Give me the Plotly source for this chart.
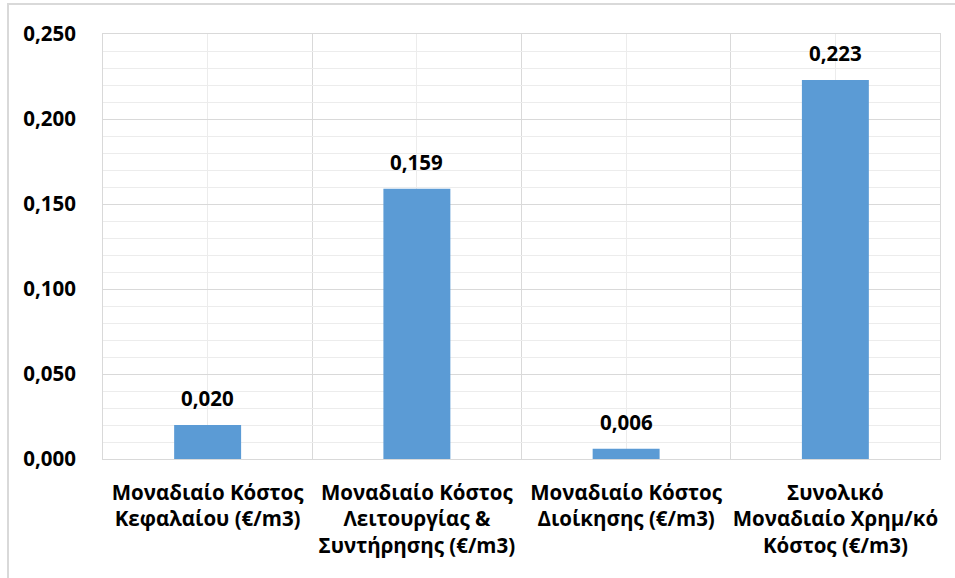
import plotly.graph_objects as go

categories = [
    "Μοναδιαίο Κόστος<br>Κεφαλαίου (€/m3)",
    "Μοναδιαίο Κόστος<br>Λειτουργίας &<br>Συντήρησης (€/m3)",
    "Μοναδιαίο Κόστος<br>Διοίκησης (€/m3)",
    "Συνολικό<br>Μοναδιαίο Χρημ/κό<br>Κόστος (€/m3)",
]
values = [0.020, 0.159, 0.006, 0.223]
y_ticks = [0.0, 0.05, 0.10, 0.15, 0.20, 0.25]

positions = list(range(len(categories)))
boundaries = [p - 0.5 for p in positions] + [positions[-1] + 0.5]

FONT = "Open Sans"
FS = 20.5
BAR = "#5B9BD5"
MAJOR = "#d9d9d9"
MINOR = "#ececec"

fig = go.Figure(go.Bar(
    x=positions, y=values, width=0.32,
    marker=dict(color=BAR, line=dict(width=0)),
    hoverinfo="skip",
))

for xp, v in zip(positions, values):
    fig.add_annotation(
        x=xp, y=v, xref="x", yref="y",
        text=f"{v:.3f}".replace(".", ","),
        showarrow=False, yanchor="bottom", yshift=11,
        font=dict(family=FONT, size=FS, color="#000000", weight="bold"),
    )

fig.update_layout(
    width=955, height=578,
    margin=dict(l=103, r=15, t=34, b=119, autoexpand=False),
    paper_bgcolor="white", plot_bgcolor="white",
    separators=",.",
    showlegend=False,
    font=dict(family=FONT, size=FS, color="#000000", weight="bold"),
    xaxis=dict(
        range=[-0.5, len(categories) - 0.5],
        tickmode="array", tickvals=positions, ticktext=categories,
        showgrid=True, gridcolor=MINOR, gridwidth=1,
        ticks="", zeroline=False, automargin=False,
        showline=True, linecolor=MAJOR, mirror=True,
        minor=dict(tickmode="array", tickvals=boundaries, showgrid=True, gridcolor=MAJOR, gridwidth=1, ticks=""),
        tickfont=dict(family=FONT, size=FS, color="#000000", weight="bold"),
        ticklabelstandoff=15,
    ),
    yaxis=dict(
        range=[0, 0.25],
        tickmode="array", tickvals=y_ticks, tickformat=".3f",
        showgrid=True, gridcolor=MAJOR, gridwidth=1,
        minor=dict(dtick=0.01, showgrid=True, gridcolor=MINOR, gridwidth=1, ticks=""),
        zeroline=False, ticks="", automargin=False,
        showline=True, linecolor=MAJOR, mirror=True,
        tickfont=dict(family=FONT, size=FS, color="#000000", weight="bold"),
        ticklabelstandoff=22,
    ),
    shapes=[dict(
        type="rect", xref="paper", yref="paper",
        x0=(8 - 103) / 837, x1=1.2, y0=-0.6, y1=(459 - 4) / 425,
        line=dict(color=MAJOR, width=2), fillcolor="rgba(0,0,0,0)", layer="below",
    )],
)

fig.write_html(
    "out.html",
    config={"displayModeBar": False},
    post_script="document.body.style.margin='0';document.body.style.padding='0';",
)
